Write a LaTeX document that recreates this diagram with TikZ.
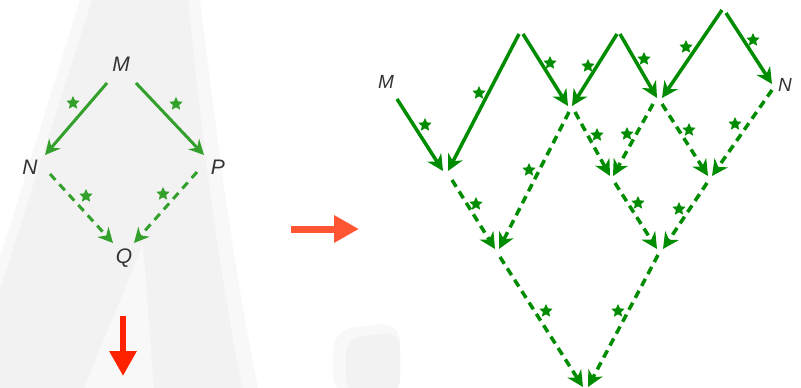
\documentclass[tikz,border=0pt]{standalone}
\usepackage{fontspec}
\setmainfont{Liberation Sans}
\usetikzlibrary{arrows.meta,shapes.geometric}
\definecolor{lgreen}{HTML}{33A02C}
\definecolor{dgreen}{HTML}{008C00}
\definecolor{redA}{HTML}{FF5533}
\definecolor{redB}{HTML}{FF2200}
\definecolor{txt}{HTML}{333333}
\definecolor{wm}{HTML}{F2F2F2}
\definecolor{wmlight}{HTML}{F8F8F8}
\tikzset{
  lbl/.style={font=\fontsize{21}{23}\selectfont\itshape, text=txt, inner sep=0pt},
  rlbl/.style={font=\fontsize{19}{21}\selectfont\itshape, text=txt, inner sep=0pt},
  lsolid/.style={draw=lgreen, line width=3pt, -{Stealth[length=15pt,width=15pt,inset=5pt]}},
  ldash/.style={lsolid, dash pattern=on 8pt off 6pt},
  rsolid/.style={draw=dgreen, line width=3.5pt, -{Stealth[length=16pt,width=16pt,inset=5pt]}},
  rdash/.style={rsolid, dash pattern=on 8pt off 5.5pt},
  lstar/.style={star, star points=5, star point ratio=2.1, minimum size=14pt, inner sep=0pt, fill=lgreen},
  rstar/.style={star, star points=5, star point ratio=2.1, minimum size=14pt, inner sep=0pt, fill=dgreen},
  bigred/.style={line width=7pt, -{Triangle[length=25pt,width=26pt]}}
}
\begin{document}
\begin{tikzpicture}[x=1pt,y=-1pt]
\useasboundingbox (0,0) rectangle (801,388);
\fill[white] (0,0) rectangle (801,388);
% watermark
\fill[wmlight] (80,0) -- (200,0) .. controls (215,120) and (230,250) .. (258,388) -- (0,388) -- (0,258) -- cycle;
\fill[wm] (92,0) -- (188,0) .. controls (200,120) and (215,250) .. (242,388) -- (154,388) -- (143,244) -- (84,388) -- (0,388) -- (0,290) -- cycle;
\fill[wmlight] (143,244) -- (152,388) -- (86,388) -- cycle;
\fill[wmlight, rounded corners=20pt] (333,395) -- (333,330) -- (400,322) -- (400,395) -- cycle;
\fill[wm, rounded corners=16pt] (346,395) -- (346,338) -- (400,332) -- (400,395) -- cycle;

% left diagram
\node[lbl] (M) at (121,64) {M};
\node[lbl] (N) at (30,167) {N};
\node[lbl] (P) at (218,167) {P};
\node[lbl] (Q) at (124,258) {Q};
\coordinate (mN) at (107,83);  \coordinate (nM) at (45,155);
\coordinate (mP) at (136,83);  \coordinate (pM) at (204,155);
\coordinate (nQ) at (50,174);  \coordinate (qN) at (113,243);
\coordinate (pQ) at (197,172); \coordinate (qP) at (134,243);
\draw[lsolid] (mN) -- (nM);
\draw[lsolid] (mP) -- (pM);
\draw[ldash] (nQ) -- (qN);
\draw[ldash] (pQ) -- (qP);
\node[lstar] (s1) at (73,103) {};
\node[lstar] (s2) at (176,104) {};
\node[lstar] (s3) at (86,196) {};
\node[lstar] (s4) at (163,194) {};

% red arrows
\coordinate (h1) at (291,229); \coordinate (h2) at (359,229);
\draw[bigred, draw=redA, fill=redA] (h1) -- (h2);
\coordinate (v1) at (123,316); \coordinate (v2) at (123,376);
\draw[bigred, line width=6pt, draw=redB, fill=redB] (v1) -- (v2);

% right diagram
\node[rlbl] (RM) at (386,82) {M};
\node[rlbl] (RN) at (785,85) {N};
\coordinate (m0) at (397,99);
\coordinate (A1) at (519,34);  \coordinate (A2) at (523,34);
\coordinate (B1) at (617,34);  \coordinate (B2) at (620,34);
\coordinate (C1) at (722,10);  \coordinate (C2) at (726,13);
\coordinate (V1a) at (443,171); \coordinate (V1b) at (448,171);
\coordinate (V2a) at (568,106); \coordinate (V2b) at (572,106);
\coordinate (V3a) at (657,98);  \coordinate (V3b) at (662,98);
\coordinate (Nt) at (772,84);
\draw[rsolid] (m0) -- (V1a);
\draw[rsolid] (A1) -- (V1b);
\draw[rsolid] (A2) -- (V2a);
\draw[rsolid] (B1) -- (V2b);
\draw[rsolid] (B2) -- (V3a);
\draw[rsolid] (C1) -- (V3b);
\draw[rsolid] (C2) -- (Nt);
% dashed level 1
\coordinate (v1s) at (452,180);  \coordinate (D1a) at (495,249);
\coordinate (v2s) at (569,112);  \coordinate (D1b) at (499,249);
\coordinate (v2t) at (575,112);  \coordinate (D2a) at (610,176);
\coordinate (v3s) at (653,104);  \coordinate (D2b) at (613,176);
\coordinate (v3t) at (662,104);  \coordinate (D3a) at (708,176);
\coordinate (ns) at (772,90);    \coordinate (D3b) at (712,176);
\draw[rdash] (v1s) -- (D1a);
\draw[rdash] (v2s) -- (D1b);
\draw[rdash] (v2t) -- (D2a);
\draw[rdash] (v3s) -- (D2b);
\draw[rdash] (v3t) -- (D3a);
\draw[rdash] (ns) -- (D3b);
% level 2
\coordinate (d2s) at (615,183);  \coordinate (E2a) at (657,249);
\coordinate (d3s) at (707,183);  \coordinate (E2b) at (663,249);
\draw[rdash] (d2s) -- (E2a);
\draw[rdash] (d3s) -- (E2b);
% level 3
\coordinate (d1s) at (500,257);  \coordinate (Fa) at (583,387);
\coordinate (e2s) at (658,255);  \coordinate (Fb) at (588,387);
\draw[rdash] (d1s) -- (Fa);
\draw[rdash] (e2s) -- (Fb);
% stars
\foreach \p [count=\i] in {(425,125),(479,93),(550,63),(588,66),(644,59),(686,47),(753,40),(597,135),(627,134),(689,130),(735,124),(529,170),(476,204),(638,203),(679,209),(546,311),(618,311)}
  \node[rstar] (rs\i) at \p {};
\end{tikzpicture}
\end{document}
